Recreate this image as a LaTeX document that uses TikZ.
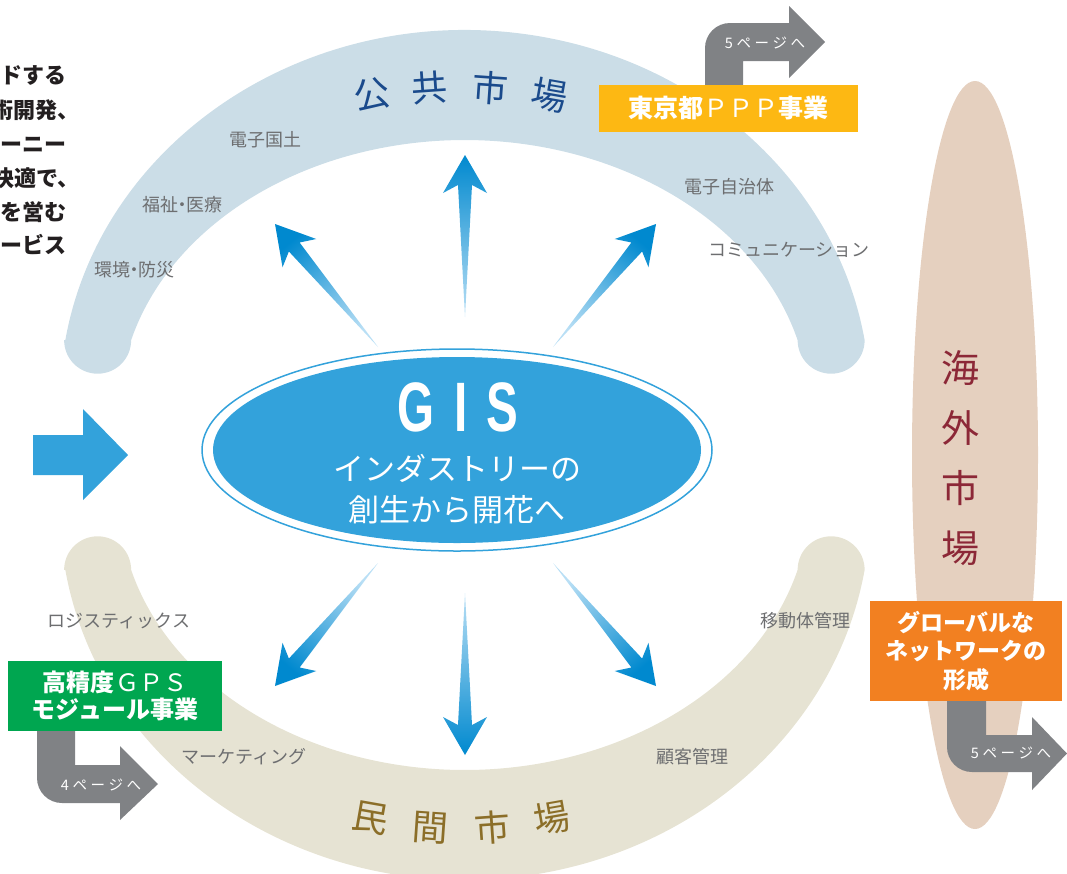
\documentclass[tikz,border=0pt]{standalone}
\usepackage{fontspec}
\usepackage{graphicx}
\setmainfont{Noto Sans CJK JP}
\newfontfamily\gisfont{Liberation Sans}
\usetikzlibrary{calc,shapes.geometric}
\definecolor{topband}{RGB}{203,221,231}
\definecolor{botband}{RGB}{230,227,211}
\definecolor{overseas}{RGB}{229,208,191}
\definecolor{gisblue}{RGB}{51,162,219}
\definecolor{pubblue}{RGB}{26,74,140}
\definecolor{privgold}{RGB}{139,110,40}
\definecolor{overred}{RGB}{140,40,55}
\definecolor{pppyellow}{RGB}{253,184,19}
\definecolor{gpsgreen}{RGB}{0,166,80}
\definecolor{globorange}{RGB}{242,128,33}
\definecolor{garrow}{RGB}{128,130,133}
\definecolor{labelgray}{RGB}{109,110,112}
\definecolor{introdark}{RGB}{35,31,32}
\definecolor{arrowdark}{RGB}{0,137,207}
\definecolor{arrowlight}{RGB}{185,223,245}
\newcommand\gisarrow[3]{%
  \path ($(#2)!30pt!(#1)$) coordinate (#2j) ($(#2)!38pt!(#1)$) coordinate (#2c);
  \shade[arrowshade, shading angle=#3] (#1) -- ($(#2j)!7pt!90:(#2)$) -- ($(#2c)!22pt!90:(#2)$) -- (#2) -- ($(#2c)!22pt!-90:(#2)$) -- ($(#2j)!7pt!-90:(#2)$) -- cycle;
}
\newcommand\ndot{\kern-5pt・\kern-5pt}
\begin{document}
\begin{tikzpicture}[x=1pt,y=-1pt,
  lbl/.style={font=\fontsize{18}{20}\selectfont, text=labelgray, inner sep=0pt},
  mkpub/.style={font=\fontsize{36}{40}\selectfont, text=pubblue, inner sep=0pt},
  mkpriv/.style={font=\fontsize{36}{40}\selectfont, text=privgold, inner sep=0pt},
  mkover/.style={font=\fontsize{38}{60}\selectfont, text=overred, inner sep=0pt, align=center},
  markbox/.style={rectangle, inner sep=0pt, text=white, align=center},
  pagelbl/.style={font=\fontsize{14.5}{16}\selectfont\addfontfeature{LetterSpace=25}, text=white, inner sep=0pt},
  intro/.style={font=\fontsize{22}{24}\selectfont\bfseries, text=introdark, inner sep=0pt, anchor=east},
  arrowshade/.style={top color=arrowdark, bottom color=arrowlight},
  gistext/.style={font=\fontsize{31}{34}\selectfont, text=white, inner sep=0pt}
]
\useasboundingbox (0,0) rectangle (1067,873);
\clip (0,0) rectangle (1067,873);

% bands
\fill[topband] (65.3,340.2) arc[start angle=189.3,end angle=350.7,x radius=405,y radius=370]
  arc[start angle=0,end angle=180,radius=33.5]
  arc[start angle=345,end angle=195,x radius=345,y radius=270]
  arc[start angle=0,end angle=180,radius=33.5] -- cycle;
\fill[botband] (65.3,569.8) arc[start angle=170.7,end angle=9.3,x radius=405,y radius=370]
  arc[start angle=0,end angle=-180,radius=33.5]
  arc[start angle=15,end angle=165,x radius=345,y radius=270]
  arc[start angle=0,end angle=-180,radius=33.5] -- cycle;
\fill[overseas] (975,455) ellipse[x radius=63, y radius=374];

% intro text (cut at left edge, as in the reference)
\node[intro] (i1) at (67,75) {リードする};
\node[intro] (i2) at (80,110) {技術開発、};
\node[intro] (i3) at (67,144) {ユーザーニー};
\node[intro] (i4) at (80,178) {快適で、};
\node[intro] (i5) at (67,212) {業を営む};
\node[intro] (i6) at (67,245) {サービス};

% band labels
\node[lbl] (l1) at (265,140) {電子国土};
\node[lbl] (l2) at (182,205) {福祉\ndot 医療};
\node[lbl] (l3) at (134,270) {環境\ndot 防災};
\node[lbl] (l4) at (729,187) {電子自治体};
\node[lbl] (l5) at (789,250) {コミュニケーション};
\node[lbl] (l6) at (119,621) {ロジスティックス};
\node[lbl] (l7) at (244,757) {マーケティング};
\node[lbl] (l8) at (692,757) {顧客管理};
\node[lbl] (l9) at (805,621) {移動体管理};

% market titles
\node[mkpub, rotate=10] (p1) at (372,95) {公};
\node[mkpub, rotate=4] (p2) at (430,88) {共};
\node[mkpub, rotate=-4] (p3) at (490,88) {市};
\node[mkpub, rotate=-10] (p4) at (550,95) {場};
\node[mkpriv, rotate=-10] (q1) at (370,818) {民};
\node[mkpriv, rotate=-4] (q2) at (430,828) {間};
\node[mkpriv, rotate=4] (q3) at (492,828) {市};
\node[mkpriv, rotate=10] (q4) at (552,818) {場};
\node[mkover] (ov) at (960,458) {海\\外\\市\\場};

% grey page arrows
\fill[garrow] (705,85) -- (705,48) arc[start angle=180,end angle=270,radius=25] -- (789,23) -- (789,6) -- (825,42) -- (789,78) -- (789,61) -- (743,61) -- (743,85) -- cycle;
\fill[garrow] (37,731) -- (37,778) arc[start angle=180,end angle=90,radius=25] -- (120,803) -- (120,820) -- (158,784) -- (120,746) -- (120,765) -- (75,765) -- (75,731) -- cycle;
\fill[garrow] (947,700) -- (947,747) arc[start angle=180,end angle=90,radius=25] -- (1032,772) -- (1032,790) -- (1067,753.5) -- (1032,717) -- (1032,735) -- (986,735) -- (986,700) -- cycle;
\node[pagelbl] (pg1) at (765,43) {5ページへ};
\node[pagelbl] (pg2) at (101,785) {4ページへ};
\node[pagelbl] (pg3) at (1011,753) {5ページへ};

% boxes
\node[markbox, fill=pppyellow, minimum width=259pt, minimum height=47pt, font=\fontsize{25}{28}\selectfont] (ppp) at (728.5,108.5) {{\bfseries 東京都}ＰＰＰ{\bfseries 事業}};
\node[markbox, fill=gpsgreen, minimum width=214pt, minimum height=70pt, font=\fontsize{24}{27}\selectfont] (gps) at (115,696) {{\bfseries 高精度}ＧＰＳ\\{\bfseries モジュール事業}};
\node[markbox, fill=globorange, minimum width=192pt, minimum height=100pt, font=\fontsize{23}{28.5}\selectfont\bfseries] (glob) at (966,651) {グローバルな\\ネットワークの\\形成};

% left arrow
\fill[gisblue] (33,435) -- (83,435) -- (83,409) -- (128,455) -- (83,500) -- (83,475) -- (33,475) -- cycle;

% center ellipse
\node[ellipse, draw=gisblue, line width=1.5pt, fill=white, minimum width=510pt, minimum height=202pt, inner sep=0pt] (ring) at (457,450) {};
\node[ellipse, fill=gisblue, minimum width=488pt, minimum height=186pt, inner sep=0pt] (gis) at (457,450) {};
\node[inner sep=0pt, text=white] (gisT) at (458,407) {\gisfont\bfseries\fontsize{70}{70}\selectfont\scalebox{0.68}[1]{G\hspace{28pt}I\hspace{28pt}S}};
\node[gistext] (gis1) at (457,468) {インダストリーの};
\node[gistext] (gis2) at (457,510) {創生から開花へ};

% radiating arrows
\coordinate (t1) at (465,317); \coordinate (h1) at (465,155);
\coordinate (t2) at (378,347); \coordinate (h2) at (275,224);
\coordinate (t3) at (553,347); \coordinate (h3) at (656,224);
\coordinate (t4) at (465,593); \coordinate (h4) at (465,755);
\coordinate (t5) at (378,563); \coordinate (h5) at (275,686);
\coordinate (t6) at (553,563); \coordinate (h6) at (656,686);
\gisarrow{t1}{h1}{0}
\gisarrow{t2}{h2}{40}
\gisarrow{t3}{h3}{-40}
\gisarrow{t4}{h4}{180}
\gisarrow{t5}{h5}{140}
\gisarrow{t6}{h6}{-140}
\end{tikzpicture}
\end{document}
